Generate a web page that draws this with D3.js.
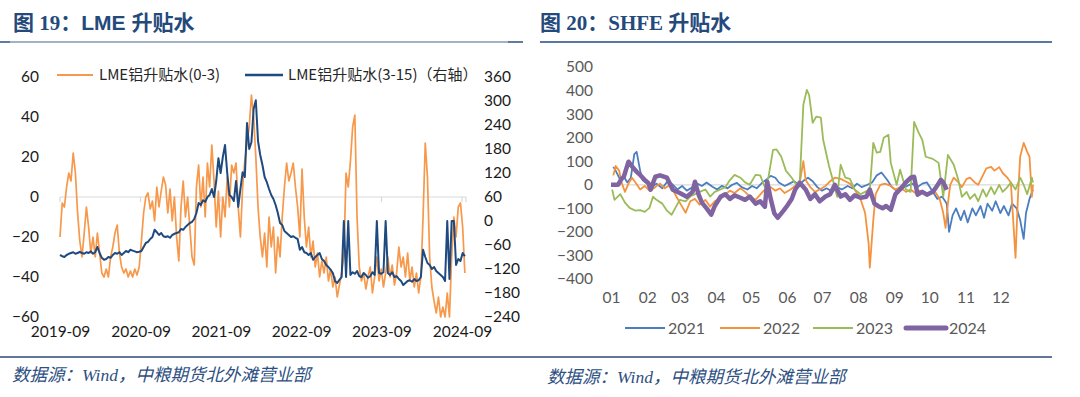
<html>
<script src="https://d3js.org/d3.v7.min.js"></script>
<style>
  body {margin: 0; background: #fff;}
  .tick text {font-family: Lato, "Liberation Sans", sans-serif;}
</style>
<body>
<svg width="1080" height="397"></svg>
<script>
// ---------- LME data (10-day samples from 2019-09-01) ----------
var lmeStart = "2019-09-01";
var lmeStepDays = 10;
var lmeTicks = ["2019-09", "2020-09", "2021-09", "2022-09", "2023-09", "2024-09"];
var lmeLeftTicks = [60, 40, 20, 0, -20, -40, -60];
var lmeRightTicks = [360, 300, 240, 180, 120, 60, 0, -60, -120, -180, -240];

// LME铝升贴水(0-3), left axis
var lme03 = [-20,-3,-5,5,12,8,22,12,-8,-22,
  -30,-18,-5,-15,-28,-20,-30,-18,-28,-38,
  -40,-36,-40,-30,-25,-18,-14,-28,-35,-38,
  -36,-40,-37,-40,-36,-39,-35,-22,-8,0,
  2,-6,-2,-12,5,-5,3,10,6,-8,
  4,-12,0,-20,-32,-5,8,-10,0,-15,
  -30,-34,5,16,-5,10,-10,17,5,26,
  8,-15,3,-20,0,-10,10,-5,16,12,
  17,-5,-20,5,18,27,35,51,40,20,
  -5,-20,-30,-18,-35,-10,-25,-15,-38,-20,
  -30,-10,5,17,8,12,17,5,-5,-20,
  14,-10,-25,-15,-30,-22,-35,-28,-40,-32,
  -38,-30,-42,-36,-45,-40,-50,-44,-38,-30,
  12,5,18,35,41,-10,-35,-42,-38,-46,
  -40,-35,-48,-40,-30,-42,-36,-45,-38,-30,
  -40,-34,-44,-38,-25,-35,-30,-40,-28,-42,
  -35,-45,-38,-48,-40,-10,27,10,-30,-45,
  -52,-58,-50,-60,-55,-60,-48,-60,-30,-10,
  -20,-5,-3,-15,-38];

// LME铝升贴水(3-15), right axis
var lme315 = [-85,-88,-90,-85,-82,-80,-78,-82,-80,-77,
  -80,-82,-78,-80,-76,-82,-78,-65,-80,-92,
  -97,-95,-90,-92,-85,-80,-82,-78,-85,-80,
  -75,-78,-72,-74,-76,-78,-77,-75,-65,-55,
  -52,-45,-40,-22,-28,-35,-30,-38,-40,-38,
  -42,-35,-32,-30,-28,-20,-22,-15,-10,-5,
  -2,5,20,45,40,52,48,60,65,80,
  60,100,157,120,160,190,120,65,60,50,
  100,35,80,122,110,245,180,197,280,302,
  200,165,140,110,97,80,65,55,40,20,
  -5,-10,-25,-30,-35,-40,-38,-42,-45,-72,
  -65,-78,-80,-85,-80,-97,-90,-85,-80,-95,
  -100,-110,-115,-122,-130,-150,-155,-147,-140,0,
  -140,0,-135,-128,-132,-125,-138,-140,-130,-135,
  -142,-138,-128,-135,0,-130,-132,-128,0,-130,
  -135,-128,-140,-138,-145,-150,-160,-155,-150,-148,
  -152,-145,-150,-148,-140,-72,-90,-105,-110,-120,
  -115,-125,-130,-135,-140,-150,0,-145,0,0,
  -110,-95,-100,-80,-88];

// ---------- SHFE data: [day of year, value] ----------
var months = ["01","02","03","04","05","06","07","08","09","10","11","12"];
var monthStartDay = [0,31,59,90,120,151,181,212,243,273,304,334];
var shfeTicks = [500, 400, 300, 200, 100, 0, -100, -200, -300, -400];

var shfe2021 = [[2,76],[4,60],[8,20],[11,35],[14,10],[17,30],[20,130],[22,140],[25,60],[27,20],
  [31,5],[35,-10],[39,5],[44,-15],[48,12],[52,5],[57,-20],[61,-5],[65,-25],[70,-10],
  [74,5],[78,-5],[82,10],[87,-8],[91,-20],[95,-5],[100,-15],[104,0],[108,8],[112,-10],
  [117,-20],[121,-5],[125,-15],[130,10],[134,25],[137,38],[141,30],[144,10],[149,-5],[153,5],
  [157,15],[161,0],[166,20],[169,30],[173,15],[177,-10],[181,-25],[185,-15],[190,-30],[194,-10],
  [198,-20],[203,-5],[207,-15],[211,5],[215,-10],[220,0],[224,10],[228,40],[232,52],[237,20],
  [241,-10],[245,-25],[250,-15],[254,-5],[258,5],[263,-10],[267,5],[271,10],[276,-30],[280,-60],
  [284,-50],[288,-80],[290,-200],[293,-130],[296,-100],[300,-150],[303,-110],[306,-160],[310,-100],[313,-130],
  [317,-90],[320,-140],[323,-80],[327,-110],[330,-70],[334,-120],[337,-90],[341,-130],[344,-80],[348,-100],
  [351,-150],[354,-230],[356,-120],[359,-60],[362,-20]];

var shfe2022 = [[2,40],[4,80],[7,60],[9,10],[12,-30],[15,5],[18,30],[21,10],[25,-20],[29,-5],
  [33,-25],[38,-10],[42,5],[46,-15],[51,0],[55,-40],[59,-76],[64,-119],[68,-70],[72,-60],
  [76,-85],[81,-64],[85,-93],[89,-70],[94,-55],[98,-40],[102,-25],[106,-35],[111,-15],[115,-30],
  [119,-50],[124,-64],[128,-42],[132,-20],[137,-10],[141,-25],[145,-15],[149,-35],[154,-20],[158,-5],
  [162,10],[165,100],[167,20],[171,-10],[175,-30],[179,-20],[184,-5],[188,15],[192,30],[197,25],
  [201,15],[205,5],[209,-20],[214,-60],[218,-120],[221,-250],[222,-352],[225,-150],[227,-40],[231,0],
  [235,5],[240,-5],[244,-20],[248,-10],[253,-30],[257,-20],[261,-35],[265,-25],[270,-40],[274,-34],
  [278,-30],[282,-60],[285,-120],[287,-183],[289,-80],[291,0],[294,30],[298,10],[301,-10],[305,25],
  [308,30],[312,10],[315,0],[319,40],[322,70],[326,76],[329,60],[333,75],[336,50],[340,30],
  [343,10],[345,-150],[347,-310],[349,-60],[351,119],[354,178],[357,140],[359,119],[361,-51],[362,0]];

var shfe2023 = [[1,-20],[3,-64],[8,-40],[12,-76],[16,-98],[21,-110],[25,-108],[29,-115],[33,-98],[36,-51],
  [39,-64],[44,-80],[48,-110],[52,-127],[55,-100],[59,-64],[64,-70],[68,-50],[72,-40],[76,-30],
  [81,-20],[85,-50],[89,-30],[94,-20],[98,-10],[102,20],[106,42],[111,30],[115,10],[119,0],
  [124,42],[128,40],[132,-10],[135,30],[139,148],[142,150],[146,120],[150,60],[155,30],[159,0],
  [162,20],[165,340],[168,403],[170,380],[173,263],[176,289],[180,285],[182,191],[187,80],[191,8],
  [194,-51],[197,85],[201,30],[205,25],[209,-20],[214,-40],[218,-30],[222,-20],[225,178],[228,136],
  [231,140],[234,200],[238,212],[240,93],[245,0],[248,64],[253,-20],[257,-30],[260,267],[264,220],
  [267,191],[270,119],[276,110],[281,93],[285,-51],[289,127],[294,85],[298,20],[301,-51],[305,-30],
  [308,-60],[312,-40],[315,-70],[319,-20],[322,-50],[326,-10],[329,-40],[333,0],[336,-30],[340,-10],
  [343,10],[347,-20],[351,30],[354,0],[357,-40],[361,30],[362,10]];

var shfe2024 = [[0,0],[6,0],[9,25],[11,34],[15,98],[19,72],[22,55],[25,42],[29,20],[32,8],
  [34,-21],[38,34],[42,40],[48,30],[53,-21],[59,-35],[65,-51],[70,-30],[72,13],[75,-40],
  [78,-76],[82,-100],[86,-127],[89,-90],[94,-51],[98,-40],[102,-60],[106,-45],[111,-55],[115,-64],
  [119,-50],[124,-80],[128,-70],[132,-93],[134,13],[137,-60],[140,-120],[143,-140],[148,-110],[151,-90],
  [155,-60],[158,-20],[162,8],[167,-20],[171,-60],[175,-40],[179,-70],[184,-50],[188,-40],[192,0],
  [197,-50],[201,-40],[205,-64],[209,-45],[214,-55],[219,-51],[222,-20],[226,-80],[229,-90],[233,-100],
  [236,-90],[240,-106],[244,-40],[248,-20],[253,10],[257,30],[260,34],[263,-42],[267,-30],[271,-42],
  [276,-30],[279,-10],[283,21],[285,10],[288,-21]];

var svg = d3.select("svg");
var titleColor = "#24497b";
var cjk = "'Noto Sans CJK SC', sans-serif";

// ---------- frame: titles, rules, source ----------
function title(x, parts) {
  var t = svg.append("text").attr("x", x).attr("y", 30)
    .attr("fill", titleColor).attr("font-weight", "bold").attr("font-size", 21);
  parts.forEach(function (p) {
    t.append("tspan").attr("font-family", p[1]).text(p[0]);
  });
}
title(13, [["图", cjk], [" 19", "'Liberation Serif'"], ["：", cjk], ["LME ", "'Liberation Sans'"], ["升贴水", cjk]]);
title(540, [["图", cjk], [" 20", "'Liberation Serif'"], ["：", cjk], ["SHFE ", "'Liberation Serif'"], ["升贴水", cjk]]);

svg.append("line").attr("x1", 0).attr("x2", 523).attr("y1", 42).attr("y2", 42)
  .attr("stroke", "#8497b0").attr("stroke-width", 1.5);
svg.append("line").attr("x1", 0).attr("x2", 10).attr("y1", 42).attr("y2", 42)
  .attr("stroke", "#4a6a98").attr("stroke-width", 1.5);
svg.append("line").attr("x1", 508).attr("x2", 523).attr("y1", 42).attr("y2", 42)
  .attr("stroke", "#4a6a98").attr("stroke-width", 1.5);
svg.append("line").attr("x1", 540).attr("x2", 1052).attr("y1", 42).attr("y2", 42)
  .attr("stroke", "#5877a3").attr("stroke-width", 2);
svg.append("line").attr("x1", 0).attr("x2", 540).attr("y1", 357).attr("y2", 357)
  .attr("stroke", "#2b4a78").attr("stroke-width", 1.5);
svg.append("line").attr("x1", 540).attr("x2", 1052).attr("y1", 357).attr("y2", 357)
  .attr("stroke", "#2b4a78").attr("stroke-width", 1.5);

[[12, 381], [547, 383]].forEach(function (p) {
  var s = svg.append("text").attr("x", p[0]).attr("y", p[1]).attr("fill", "#2d4f82")
    .attr("font-size", 17.5).attr("font-style", "italic").attr("font-family", cjk);
  s.append("tspan").text("数据源：");
  s.append("tspan").attr("font-family", "'Liberation Serif'").text("Wind");
  s.append("tspan").text("，中粮期货北外滩营业部");
});

// ---------- LME chart ----------
var parse = d3.utcParse("%Y-%m-%d");
var t0 = parse(lmeStart);
var lmeDates = lme03.map(function (d, i) { return d3.utcDay.offset(t0, i * lmeStepDays); });

var x1 = d3.scaleUtc().domain([parse("2019-09-01"), parse("2024-09-01")]).range([60, 462]);
var yL = d3.scaleLinear().domain([-60, 60]).range([317, 77]);
var yR = d3.scaleLinear().domain([-240, 360]).range([317, 77]);

var g1 = svg.append("g");
g1.append("line").attr("x1", 60).attr("x2", 466).attr("y1", yL(0)).attr("y2", yL(0))
  .attr("stroke", "#d9d9d9").attr("stroke-width", 1.2);
lmeTicks.forEach(function (m) {
  var xx = x1(parse(m + "-01"));
  g1.append("line").attr("x1", xx).attr("x2", xx).attr("y1", yL(0)).attr("y2", yL(0) + 5)
    .attr("stroke", "#d9d9d9").attr("stroke-width", 1.2);
});
g1.append("line").attr("x1", 466).attr("x2", 466).attr("y1", yL(0)).attr("y2", yL(0) + 5)
  .attr("stroke", "#d9d9d9").attr("stroke-width", 1.2);

var line03 = d3.line().x(function (d, i) { return x1(lmeDates[i]); }).y(function (d) { return yL(d); });
var line315 = d3.line().x(function (d, i) { return x1(lmeDates[i]); }).y(function (d) { return yR(d); });
g1.append("path").attr("d", line03(lme03)).attr("fill", "none")
  .attr("stroke", "#f7984a").attr("stroke-width", 1.7).attr("stroke-linejoin", "round");
g1.append("path").attr("d", line315(lme315)).attr("fill", "none")
  .attr("stroke", "#1f4a80").attr("stroke-width", 2).attr("stroke-linejoin", "round");

var axL = g1.append("g").attr("transform", "translate(39,0)")
  .call(d3.axisLeft(yL).tickValues(lmeLeftTicks).tickSize(0).tickPadding(0));
var axR = g1.append("g").attr("transform", "translate(484,0)")
  .call(d3.axisRight(yR).tickValues(lmeRightTicks).tickSize(0).tickPadding(0));
var axB = g1.append("g").attr("transform", "translate(0,326)")
  .call(d3.axisBottom(x1).tickValues(lmeTicks.map(function (m) { return parse(m + "-01"); }))
    .tickFormat(d3.utcFormat("%Y-%m")).tickSize(0).tickPadding(0));
[axL, axR, axB].forEach(function (a) {
  a.select(".domain").remove();
  a.selectAll("text").attr("font-size", 15.5).attr("fill", "#1a1a1a");
});

// legend
var lg1 = g1.append("g").attr("font-family", cjk).attr("font-size", 15).attr("fill", "#262626");
lg1.append("line").attr("x1", 57).attr("x2", 93).attr("y1", 75).attr("y2", 75)
  .attr("stroke", "#f7984a").attr("stroke-width", 2);
lg1.append("text").attr("x", 99).attr("y", 80).text("LME铝升贴水(0-3)");
lg1.append("line").attr("x1", 245).attr("x2", 283).attr("y1", 75).attr("y2", 75)
  .attr("stroke", "#1f4a80").attr("stroke-width", 2.4);
lg1.append("text").attr("x", 288).attr("y", 80).text("LME铝升贴水(3-15)（右轴）");

// ---------- SHFE chart ----------
var x2 = d3.scaleLinear().domain([0, 365]).range([611, 1036.5]);
var y2 = d3.scaleLinear().domain([-400, 500]).range([279, 67]);
var g2 = svg.append("g");
g2.append("line").attr("x1", 611).attr("x2", 1034).attr("y1", y2(0)).attr("y2", y2(0))
  .attr("stroke", "#d9d9d9").attr("stroke-width", 1.2);

var lineS = d3.line().x(function (d) { return x2(d[0]); }).y(function (d) { return y2(d[1]); });
var shfeSeries = [
  {name: "2021", data: shfe2021, color: "#4a7ec0", w: 1.8},
  {name: "2022", data: shfe2022, color: "#f5923e", w: 1.8},
  {name: "2023", data: shfe2023, color: "#9bbb59", w: 1.8},
  {name: "2024", data: shfe2024, color: "#8064a2", w: 4.5}
];
shfeSeries.forEach(function (s) {
  g2.append("path").attr("d", lineS(s.data)).attr("fill", "none")
    .attr("stroke", s.color).attr("stroke-width", s.w).attr("stroke-linejoin", "round");
});

var ay2 = g2.append("g").attr("transform", "translate(593,0)")
  .call(d3.axisLeft(y2).tickValues(shfeTicks).tickSize(0).tickPadding(0));
var ax2 = g2.append("g").attr("transform", "translate(0,292)")
  .call(d3.axisBottom(x2).tickValues(monthStartDay)
    .tickFormat(function (d, i) { return months[i]; }).tickSize(0).tickPadding(0));
[ay2, ax2].forEach(function (a) {
  a.select(".domain").remove();
  a.selectAll("text").attr("font-size", 15.5).attr("fill", "#595959");
});

var lgX = [625, 720, 813, 906];
var lg2 = g2.append("g").attr("font-family", "Lato, 'Liberation Sans', sans-serif")
  .attr("font-size", 16).attr("fill", "#595959");
shfeSeries.forEach(function (s, i) {
  lg2.append("line").attr("x1", lgX[i]).attr("x2", lgX[i] + 40).attr("y1", 328).attr("y2", 328)
    .attr("stroke", s.color).attr("stroke-width", s.w === 4.5 ? 5 : 2).attr("stroke-linecap", s.w === 4.5 ? "round" : "butt");
  lg2.append("text").attr("x", lgX[i] + 43).attr("y", 334).text(s.name);
});
</script>
</body>
</html>
